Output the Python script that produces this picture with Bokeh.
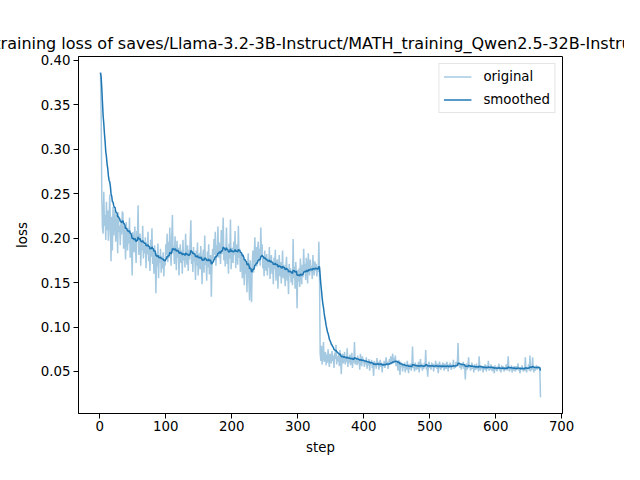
import math
from bokeh.plotting import figure
from bokeh.models import Range1d, FixedTicker, NumeralTickFormatter, Legend, LegendItem
from bokeh.embed import file_html
from bokeh.resources import INLINE

TITLE = "training loss of saves/Llama-3.2-3B-Instruct/MATH_training_Qwen2.5-32B-Instruct"

loss_steps_001_100 = [
    0.386, 0.338, 0.246, 0.211, 0.205, 0.252, 0.214, 0.226, 0.198, 0.241,
    0.209, 0.231, 0.197, 0.219, 0.249, 0.212, 0.174, 0.224, 0.186, 0.235,
    0.203, 0.217, 0.232, 0.196, 0.211, 0.226, 0.183, 0.229, 0.207, 0.214,
    0.192, 0.221, 0.204, 0.230, 0.228, 0.188, 0.213, 0.199, 0.176, 0.218,
    0.202, 0.186, 0.211, 0.194, 0.223, 0.178, 0.205, 0.189, 0.158, 0.207,
    0.196, 0.184, 0.213, 0.191, 0.172, 0.208, 0.199, 0.237, 0.181, 0.195,
    0.205, 0.169, 0.198, 0.186, 0.214, 0.177, 0.192, 0.183, 0.201, 0.166,
    0.195, 0.182, 0.207, 0.174, 0.189, 0.163, 0.198, 0.179, 0.211, 0.171,
    0.186, 0.160, 0.192, 0.176, 0.138, 0.183, 0.168, 0.194, 0.155, 0.181,
    0.172, 0.188, 0.161, 0.179, 0.166, 0.184, 0.157, 0.176, 0.169, 0.193,
]
loss_steps_101_200 = [
    0.181, 0.205, 0.173, 0.196, 0.178, 0.212, 0.186, 0.169, 0.199, 0.226,
    0.183, 0.191, 0.171, 0.202, 0.185, 0.164, 0.197, 0.178, 0.189, 0.158,
    0.184, 0.193, 0.172, 0.186, 0.160, 0.198, 0.175, 0.183, 0.167, 0.205,
    0.181, 0.170, 0.192, 0.163, 0.187, 0.176, 0.199, 0.220, 0.171, 0.184,
    0.162, 0.190, 0.174, 0.181, 0.153, 0.186, 0.169, 0.195, 0.158, 0.177,
    0.183, 0.165, 0.191, 0.172, 0.148, 0.179, 0.187, 0.161, 0.203, 0.170,
    0.176, 0.152, 0.185, 0.167, 0.193, 0.159, 0.174, 0.181, 0.134, 0.172,
    0.188, 0.176, 0.199, 0.181, 0.207, 0.169, 0.192, 0.184, 0.213, 0.178,
    0.195, 0.186, 0.171, 0.209, 0.182, 0.197, 0.223, 0.175, 0.190, 0.168,
    0.186, 0.212, 0.171, 0.183, 0.160, 0.194, 0.177, 0.221, 0.165, 0.180,
]
loss_steps_201_300 = [
    0.189, 0.172, 0.196, 0.181, 0.208, 0.166, 0.185, 0.193, 0.170, 0.214,
    0.178, 0.188, 0.162, 0.183, 0.174, 0.155, 0.182, 0.166, 0.147, 0.176,
    0.160, 0.171, 0.139, 0.168, 0.183, 0.152, 0.130, 0.175, 0.158, 0.128,
    0.170, 0.186, 0.161, 0.179, 0.201, 0.172, 0.190, 0.168, 0.184, 0.196,
    0.175, 0.188, 0.169, 0.212, 0.181, 0.193, 0.166, 0.178, 0.157, 0.186,
    0.171, 0.163, 0.182, 0.158, 0.176, 0.167, 0.190, 0.154, 0.174, 0.181,
    0.160, 0.172, 0.148, 0.178, 0.165, 0.187, 0.152, 0.169, 0.176, 0.143,
    0.168, 0.181, 0.157, 0.173, 0.149, 0.164, 0.186, 0.155, 0.170, 0.161,
    0.146, 0.168, 0.179, 0.152, 0.163, 0.137, 0.171, 0.158, 0.166, 0.150,
    0.162, 0.147, 0.199, 0.155, 0.168, 0.143, 0.173, 0.158, 0.121, 0.164,
]
loss_steps_301_400 = [
    0.151, 0.166, 0.145, 0.177, 0.159, 0.148, 0.170, 0.156, 0.188, 0.162,
    0.171, 0.153, 0.178, 0.164, 0.149, 0.183, 0.167, 0.158, 0.176, 0.162,
    0.169, 0.154, 0.181, 0.166, 0.158, 0.174, 0.163, 0.171, 0.157, 0.168,
    0.162, 0.196, 0.158, 0.071, 0.062, 0.079, 0.058, 0.068, 0.083, 0.061,
    0.064, 0.072, 0.057, 0.069, 0.060, 0.075, 0.063, 0.055, 0.070, 0.066,
    0.059, 0.073, 0.062, 0.068, 0.054, 0.071, 0.064, 0.080, 0.058, 0.067,
    0.061, 0.069, 0.056, 0.074, 0.063, 0.047, 0.066, 0.070, 0.059, 0.065,
    0.072, 0.058, 0.064, 0.061, 0.076, 0.055, 0.067, 0.060, 0.069, 0.057,
    0.063, 0.071, 0.054, 0.066, 0.060, 0.083, 0.058, 0.065, 0.062, 0.057,
    0.068, 0.059, 0.064, 0.052, 0.070, 0.061, 0.056, 0.067, 0.060, 0.063,
]
loss_steps_401_500 = [
    0.055, 0.062, 0.058, 0.066, 0.053, 0.060, 0.057, 0.064, 0.051, 0.061,
    0.058, 0.063, 0.054, 0.059, 0.045, 0.062, 0.056, 0.060, 0.053, 0.065,
    0.057, 0.061, 0.052, 0.058, 0.063, 0.055, 0.060, 0.049, 0.059, 0.056,
    0.062, 0.054, 0.058, 0.066, 0.057, 0.061, 0.053, 0.059, 0.064, 0.060,
    0.067, 0.058, 0.063, 0.070, 0.059, 0.065, 0.061, 0.068, 0.056, 0.062,
    0.060, 0.051, 0.063, 0.057, 0.046, 0.061, 0.055, 0.059, 0.050, 0.058,
    0.054, 0.060, 0.049, 0.057, 0.052, 0.062, 0.055, 0.048, 0.058, 0.053,
    0.059, 0.051, 0.056, 0.078, 0.054, 0.057, 0.050, 0.060, 0.055, 0.052,
    0.058, 0.053, 0.061, 0.049, 0.056, 0.064, 0.054, 0.059, 0.051, 0.057,
    0.053, 0.060, 0.055, 0.074, 0.052, 0.058, 0.044, 0.056, 0.061, 0.054,
]
loss_steps_501_600 = [
    0.057, 0.052, 0.060, 0.055, 0.059, 0.050, 0.058, 0.054, 0.062, 0.056,
    0.053, 0.059, 0.048, 0.057, 0.061, 0.055, 0.052, 0.058, 0.054, 0.060,
    0.056, 0.051, 0.059, 0.055, 0.053, 0.061, 0.057, 0.050, 0.058, 0.054,
    0.060, 0.055, 0.052, 0.058, 0.056, 0.063, 0.053, 0.057, 0.054, 0.061,
    0.057, 0.059, 0.082, 0.056, 0.060, 0.054, 0.058, 0.052, 0.059, 0.055,
    0.061, 0.053, 0.057, 0.041, 0.055, 0.059, 0.052, 0.056, 0.066, 0.054,
    0.057, 0.051, 0.055, 0.060, 0.053, 0.056, 0.049, 0.058, 0.054, 0.052,
    0.059, 0.053, 0.056, 0.050, 0.067, 0.054, 0.051, 0.057, 0.053, 0.055,
    0.049, 0.056, 0.052, 0.058, 0.054, 0.050, 0.057, 0.053, 0.062, 0.051,
    0.055, 0.052, 0.058, 0.054, 0.050, 0.056, 0.053, 0.048, 0.057, 0.052,
]
loss_steps_601_668 = [
    0.055, 0.050, 0.056, 0.053, 0.059, 0.051, 0.054, 0.049, 0.057, 0.052,
    0.056, 0.053, 0.050, 0.055, 0.052, 0.058, 0.051, 0.054, 0.067, 0.053,
    0.050, 0.055, 0.052, 0.057, 0.049, 0.054, 0.051, 0.056, 0.053, 0.050,
    0.056, 0.052, 0.054, 0.059, 0.051, 0.053, 0.048, 0.055, 0.052, 0.057,
    0.053, 0.050, 0.054, 0.051, 0.066, 0.052, 0.049, 0.055, 0.053, 0.058,
    0.051, 0.068, 0.050, 0.056, 0.052, 0.066, 0.053, 0.049, 0.055, 0.051,
    0.054, 0.057, 0.052, 0.056, 0.053, 0.055, 0.052, 0.021,
]

x_ticks = [0, 100, 200, 300, 400, 500, 600, 700]
y_ticks = [0.05, 0.10, 0.15, 0.20, 0.25, 0.30, 0.35, 0.40]

loss = (loss_steps_001_100 + loss_steps_101_200 + loss_steps_201_300 +
        loss_steps_301_400 + loss_steps_401_500 + loss_steps_501_600 +
        loss_steps_601_668)
steps = list(range(1, len(loss) + 1))


def smooth(scalars):
    """EMA smoothing as used by the training-loss plot."""
    last = scalars[0]
    weight = 1.8 * (1 / (1 + math.exp(-0.05 * len(scalars))) - 0.5)
    out = []
    for v in scalars:
        last = last * weight + (1 - weight) * v
        out.append(last)
    return out


smoothed = smooth(loss)

xmin, xmax = min(steps), max(steps)
ymin, ymax = min(loss + smoothed), max(loss + smoothed)
xpad = 0.05 * (xmax - xmin)
ypad = 0.05 * (ymax - ymin)

FONT = "DejaVu Sans"
BLUE = "#1f77b4"

p = figure(width=624, height=464, output_backend="svg", toolbar_location=None,
           x_range=Range1d(xmin - xpad, xmax + xpad),
           y_range=Range1d(ymin - ypad, ymax + ypad),
           min_border_left=78, min_border_right=62, min_border_top=56,
           min_border_bottom=51)

r1 = p.line(steps, loss, line_color=BLUE, line_alpha=0.4, line_width=1.5)
r2 = p.line(steps, smoothed, line_color=BLUE, line_width=1.5)

p.title.text = TITLE
p.title.align = "center"
p.title.text_font = FONT
p.title.text_font_size = "16px"
p.title.text_font_style = "normal"
p.title.text_color = "black"
p.title.standoff = 8

p.xgrid.visible = False
p.ygrid.visible = False
p.outline_line_color = "black"
p.outline_line_width = 1
p.background_fill_color = "white"
p.border_fill_color = "white"

p.xaxis.ticker = FixedTicker(ticks=x_ticks)
p.yaxis.ticker = FixedTicker(ticks=y_ticks)
p.yaxis.formatter = NumeralTickFormatter(format="0.00")
p.xaxis.axis_label = "step"
p.yaxis.axis_label = "loss"

for ax in (p.xaxis, p.yaxis):
    ax.axis_line_color = "black"
    ax.major_tick_line_color = "black"
    ax.minor_tick_line_color = None
    ax.major_tick_out = 5
    ax.major_tick_in = 0
    ax.major_label_text_font = FONT
    ax.major_label_text_font_size = "13.33px"
    ax.major_label_text_color = "black"
    ax.axis_label_text_font = FONT
    ax.axis_label_text_font_size = "13.33px"
    ax.axis_label_text_font_style = "normal"
    ax.axis_label_text_color = "black"

p.xaxis.major_label_standoff = 2
p.xaxis.axis_label_standoff = 6
p.yaxis.major_label_standoff = 3
p.yaxis.axis_label_standoff = 8

legend = Legend(items=[LegendItem(label="original", renderers=[r1]),
                       LegendItem(label="smoothed", renderers=[r2])],
                location="top_right")
legend.margin = 7
legend.padding = 4
legend.spacing = 6
legend.glyph_width = 28
legend.glyph_height = 17
legend.label_height = 17
legend.label_standoff = 12
legend.label_text_font = FONT
legend.label_text_font_size = "13.33px"
legend.label_text_color = "black"
legend.border_line_color = "#cccccc"
legend.border_line_width = 1
legend.background_fill_color = "white"
legend.background_fill_alpha = 0.8
p.add_layout(legend)

html = file_html(p, INLINE)
with open("out.html", "w") as f:
    f.write(html)
